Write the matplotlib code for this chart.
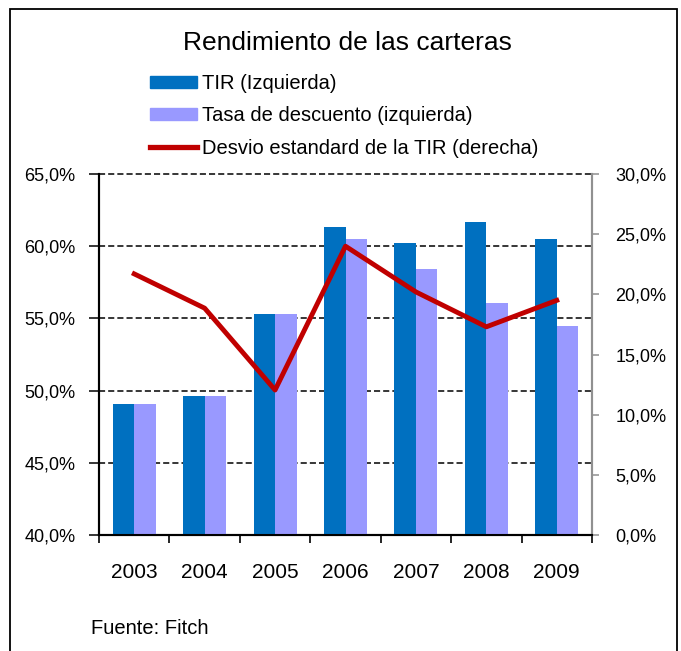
import matplotlib.pyplot as plt
import matplotlib.patches as mpatches
from matplotlib.lines import Line2D
from matplotlib.ticker import FuncFormatter, FixedLocator
import numpy as np

years = ['2003', '2004', '2005', '2006', '2007', '2008', '2009']
tir = [49.1, 49.6, 55.3, 61.3, 60.2, 61.7, 60.5]
tasa = [49.1, 49.6, 55.3, 60.5, 58.4, 56.1, 54.5]
desvio = [21.7, 18.85, 12.05, 24.0, 20.2, 17.3, 19.5]

plt.rcParams['font.family'] = ['Liberation Sans', 'DejaVu Sans']

fig = plt.figure(figsize=(6.81, 6.51), dpi=100)
ax = fig.add_axes([99/681, 1-535/651, 493/681, 361/651])
ax2 = ax.twinx()

# outer frame
fig.patches.append(mpatches.Rectangle((10/681, -0.05), 667/681, 1-9/651+0.05,
                                      transform=fig.transFigure, fill=False,
                                      edgecolor='black', linewidth=1.3))

pct = FuncFormatter(lambda v, p: f'{v:.1f}%'.replace('.', ','))

x = np.arange(len(years))
w = 0.305
ax.bar(x - w/2, tir, w, color='#0070C0', zorder=3)
ax.bar(x + w/2, tasa, w, color='#9999FF', zorder=3)
ax.set_ylim(40, 65)
ax.set_xlim(-0.5, len(years) - 0.5)
ax.set_yticks(np.arange(40, 66, 5))
ax.yaxis.set_major_formatter(pct)
ax.grid(axis='y', color='black', linestyle=(0, (4, 2)), linewidth=1.1, zorder=1)
for gl in ax.get_ygridlines():
    gl.set_clip_on(False)
ax.set_axisbelow(True)

ax.set_xticks(x)
ax.set_xticklabels(years, fontsize=15)
ax.tick_params(axis='x', which='major', length=0, pad=20)
ax.xaxis.set_minor_locator(FixedLocator(np.arange(-0.5, len(years), 1.0)))
ax.tick_params(axis='x', which='minor', length=6, width=1.2, color='black')
ax.tick_params(axis='y', labelsize=13, length=7, width=1.1, color='black', pad=10)

ax2.plot(x, desvio, color='#C00000', linewidth=3.5, zorder=5)
ax2.set_ylim(0, 30)
ax2.set_yticks(np.arange(0, 31, 5))
ax2.yaxis.set_major_formatter(pct)
ax2.tick_params(axis='y', labelsize=13, length=5, width=1.1, color='#909090', pad=12)

for a in (ax, ax2):
    a.spines['top'].set_visible(False)
    a.spines['left'].set_color('black')
    a.spines['right'].set_color('#909090')
    a.spines['bottom'].set_color('black')
    a.spines['left'].set_linewidth(1.5)
    a.spines['right'].set_linewidth(1.5)
    a.spines['bottom'].set_linewidth(1.5)

fig.text(347/681, 1-43/651, 'Rendimiento de las carteras', ha='center', va='center',
         fontsize=19)

handles = [mpatches.Patch(color='#0070C0'),
           mpatches.Patch(color='#9999FF'),
           Line2D([0], [0], color='#C00000', linewidth=3.8)]
labels = ['TIR (Izquierda)', 'Tasa de descuento (izquierda)',
          'Desvio estandard de la TIR (derecha)']
fig.legend(handles, labels, loc='upper left', bbox_to_anchor=(150/681, 1-74/651),
           frameon=False, fontsize=14.5, handlelength=2.35, handleheight=0.5,
           handletextpad=0.25, labelspacing=0.66, borderaxespad=0, borderpad=0)

fig.text(91/681, 1-628/651, 'Fuente: Fitch', ha='left', va='center', fontsize=14.5)

fig.savefig('out.png', dpi=100)
